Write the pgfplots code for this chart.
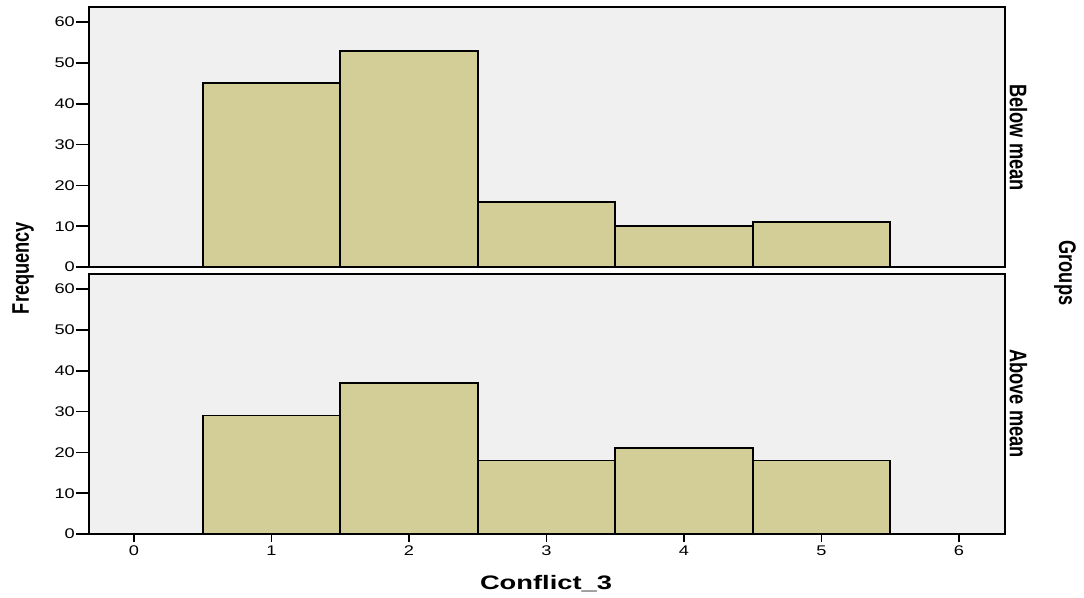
\documentclass[border=0pt]{standalone}
\usepackage{fontspec}
\setmainfont{Liberation Sans}
\usepackage{pgfplots}
\pgfplotsset{compat=1.18}
\newfontfamily\tickfont[FakeStretch=1.3]{Liberation Sans}
\newfontfamily\narrowfont[FakeStretch=0.76]{Liberation Sans Bold}
\newfontfamily\widefont[FakeStretch=1.4]{Liberation Sans Bold}
\definecolor{barfill}{RGB}{211,206,152}
\definecolor{panelbg}{RGB}{240,240,240}
\pgfplotsset{
  panel/.style={
    width=916bp, height=260bp, scale only axis,
    xmin=-0.327, xmax=6.335, ymin=0, ymax=63.7,
    axis line style={line width=1.6bp, black},
    tick style={line width=1.6bp, black},
    tick align=outside,
    /pgf/number format/assume math mode=true,
    ticklabel style={font=\tickfont\fontsize{14bp}{15bp}\selectfont},
  },
  mainpanel/.style={
    panel,
    axis background/.style={fill=panelbg},
    major tick length=13bp,
    ytick={0,10,...,60}, xtick=\empty,
    ytick pos=left,
    yticklabel style={inner sep=1bp},
  }
}
\pgfplotstableread{
x y
0.5 45
1.5 53
2.5 16
3.5 10
4.5 11
5.5 11
}\below
\pgfplotstableread{
x y
0.5 29
1.5 37
2.5 18
3.5 21
4.5 18
5.5 18
}\above
\begin{document}
\begin{tikzpicture}
\path[use as bounding box] (0,0) rectangle (1084bp,598bp);
% top panel
\begin{axis}[mainpanel, at={(89bp,591bp)}, anchor=north west]
\addplot[ybar interval, fill=barfill, draw=black, line width=1.7bp] table[x=x,y=y] {\below};
\end{axis}
% bottom panel
\begin{axis}[mainpanel, at={(89bp,324bp)}, anchor=north west]
\addplot[ybar interval, fill=barfill, draw=black, line width=1.7bp] table[x=x,y=y] {\above};
\end{axis}
% bottom x ticks overlay
\begin{axis}[panel, at={(89bp,324bp)}, anchor=north west,
  axis line style={draw=none}, ytick=\empty, xtick={0,1,...,6},
  xtick pos=bottom, major tick length=8bp]
\end{axis}
\node[rotate=90, inner sep=0] at (23bp,330bp) {\narrowfont\fontsize{24bp}{26bp}\selectfont Frequency};
\node[rotate=-90, inner sep=0] at (1018.5bp,460.5bp) {\narrowfont\fontsize{24bp}{26bp}\selectfont Below mean};
\node[rotate=-90, inner sep=0] at (1018.5bp,194.5bp) {\narrowfont\fontsize{24bp}{26bp}\selectfont Above mean};
\node[rotate=-90, inner sep=0] at (1065bp,325bp) {\narrowfont\fontsize{24bp}{26bp}\selectfont Groups};
\node[inner sep=0] at (546bp,14bp) {\widefont\fontsize{19.5bp}{21bp}\selectfont Conflict\_3};
\end{tikzpicture}
\end{document}
